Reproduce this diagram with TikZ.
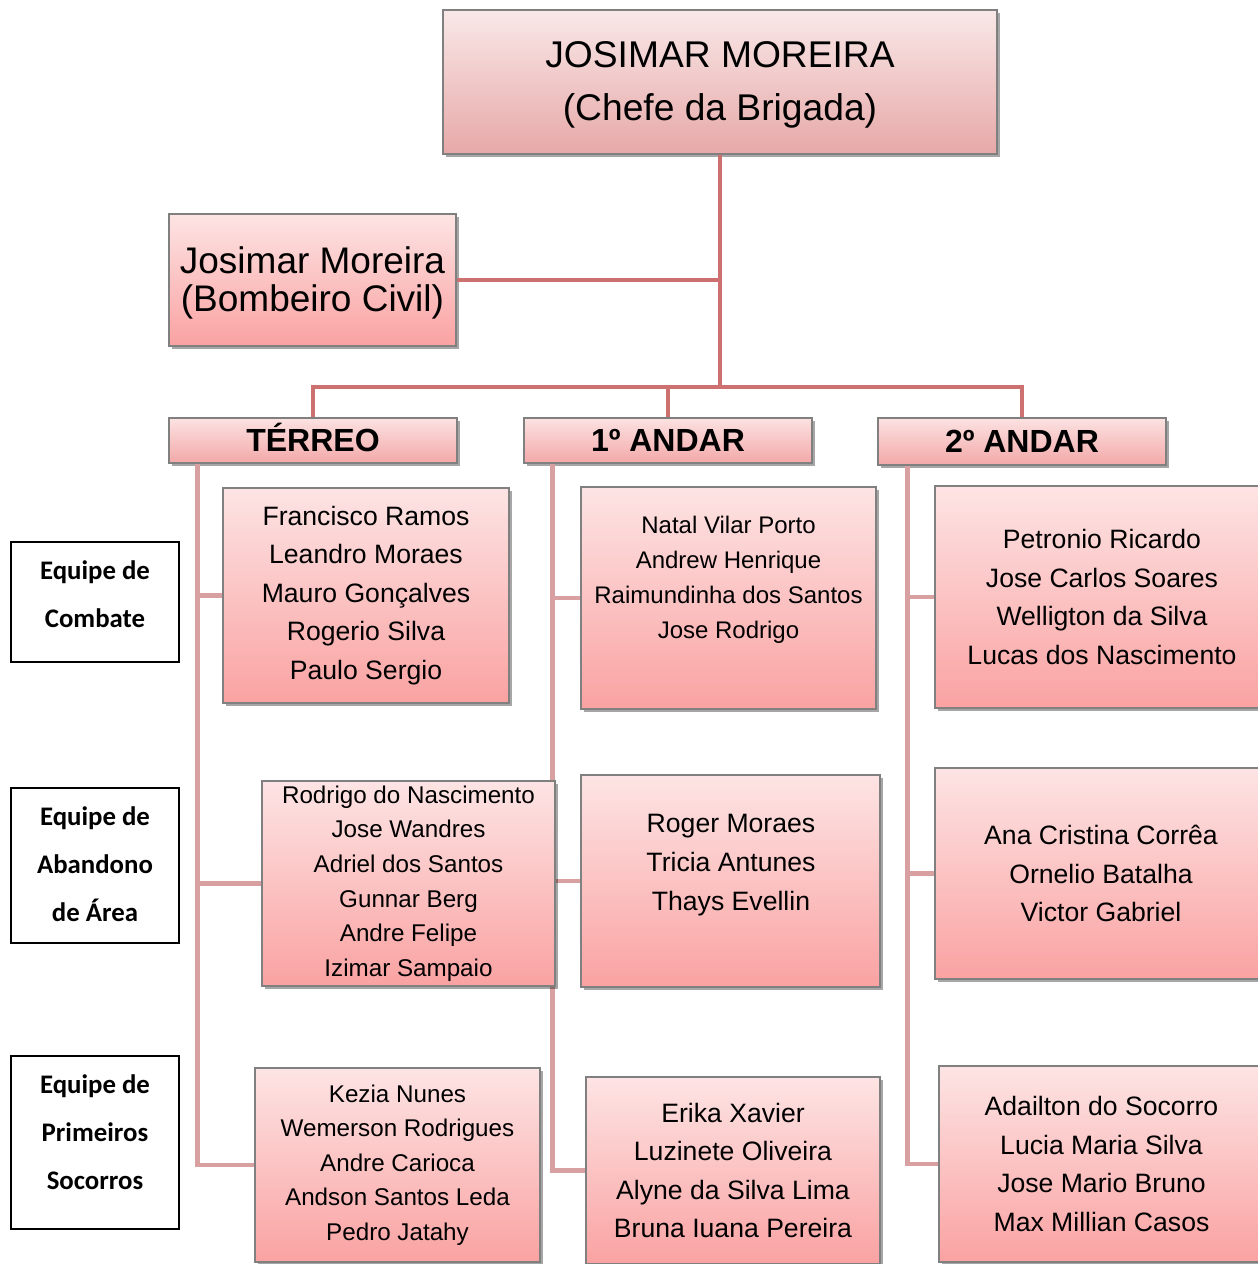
\documentclass[tikz,border=0pt]{standalone}
\usepackage{fontspec}
\setmainfont{Liberation Sans}
\newfontfamily\carlitofont{Carlito}
\usetikzlibrary{shadows}
\definecolor{topT}{RGB}{249,232,232}
\definecolor{topB}{RGB}{231,168,168}
\definecolor{boxT}{RGB}{253,228,228}
\definecolor{boxB}{RGB}{250,162,162}
\definecolor{hdrT}{RGB}{252,226,226}
\definecolor{hdrB}{RGB}{243,168,168}
\definecolor{trunkc}{RGB}{205,112,112}
\definecolor{spinec}{RGB}{216,160,160}
\definecolor{edgec}{RGB}{128,128,128}
\tikzset{
  pinkbox/.style={draw=edgec, line width=0.6pt, top color=boxT, bottom color=boxB,
    drop shadow={shadow xshift=1.5pt, shadow yshift=-1.5pt, opacity=0.35, fill=black},
    align=center, inner sep=0pt},
  topbox/.style={pinkbox, top color=topT, bottom color=topB},
  hdrbox/.style={pinkbox, top color=hdrT, bottom color=hdrB,
    font=\bfseries\fontsize{16}{19}\selectfont, text height=11.5pt, text depth=1pt},
  teambox/.style={draw=black, line width=1pt, fill=white, inner sep=0pt},
  teamtext/.style={align=center, inner sep=0pt,
    font=\carlitofont\bfseries\fontsize{13.4}{24}\selectfont},
  nametext/.style={align=center, inner sep=0pt},
  trunkline/.style={draw=trunkc, line width=2pt},
  spineline/.style={draw=spinec, line width=2.3pt},
  nbig/.style={font=\fontsize{13.3}{19.3}\selectfont},
  nsmall/.style={font=\fontsize{12.1}{17.3}\selectfont}
}
\begin{document}
\begin{tikzpicture}[x=0.5pt,y=-0.5pt]
\useasboundingbox (0,0) rectangle (1258,1264);
\coordinate (bus) at (720,387);
% top boxes
\node[topbox, minimum width=277pt, minimum height=72pt] (top) at (720,82) {};
\node[nametext, font=\fontsize{18.6}{26.5}\selectfont] (topt) at (720,85)
  {JOSIMAR MOREIRA\\(Chefe da Brigada)};
\node[pinkbox, minimum width=143.5pt, minimum height=66pt] (bomb) at (312.5,280) {};
\node[nametext, font=\fontsize{18.5}{19}\selectfont] (bombt) at (312.5,283)
  {Josimar Moreira\\(Bombeiro Civil)};
\node[hdrbox, minimum width=144pt, minimum height=22.5pt] (hT) at (313,440.5) {TÉRREO};
\node[hdrbox, minimum width=144pt, minimum height=22.5pt] (h1) at (668,440.5) {1º ANDAR};
\node[hdrbox, minimum width=144pt, minimum height=23.5pt] (h2) at (1022,441.5) {2º ANDAR};
% spine coordinates
\coordinate (sT) at ([xshift=14.5pt]hT.south west);
\coordinate (s1) at ([xshift=14.5pt]h1.south west);
\coordinate (s2) at ([xshift=15pt]h2.south west);
\path (366,595.5) coordinate (cT1) (408.5,883.5) coordinate (cT2) (397.5,1165) coordinate (cT3)
      (728.5,598) coordinate (cA1) (730.5,881) coordinate (cA2) (733,1170.5) coordinate (cA3)
      (1102,597) coordinate (cB1) (1101,873.5) coordinate (cB2) (1101.5,1164) coordinate (cB3);
% connectors (drawn before content boxes)
\draw[trunkline] (top.south) -- (bus);
\draw[trunkline] (bomb.east) -- (bomb.east -| top.south);
\draw[trunkline] (hT.north) -- (hT.north |- bus) -- (h2.north |- bus) -- (h2.north);
\draw[trunkline] (h1.north) -- (h1.north |- bus);
\draw[spineline] (sT) |- ([xshift=-71.25pt]cT3);
\draw[spineline] (sT |- cT1) -- ([xshift=-71.5pt]cT1);
\draw[spineline] (sT |- cT2) -- ([xshift=-73.25pt]cT2);
\draw[spineline] (s1) |- ([xshift=-73.5pt]cA3);
\draw[spineline] (s1 |- cA1) -- ([xshift=-73.75pt]cA1);
\draw[spineline] (s1 |- cA2) -- ([xshift=-74.75pt]cA2);
\draw[spineline] (s2) |- ([xshift=-81.25pt]cB3);
\draw[spineline] (s2 |- cB1) -- ([xshift=-83.5pt]cB1);
\draw[spineline] (s2 |- cB2) -- ([xshift=-83pt]cB2);
% content boxes
\node[pinkbox, nbig, minimum width=143pt, minimum height=107.5pt] (T1) at (cT1)
  {Francisco Ramos\\Leandro Moraes\\Mauro Gonçalves\\Rogerio Silva\\Paulo Sergio};
\node[pinkbox, nsmall, minimum width=146.5pt, minimum height=102.5pt] (T2) at (cT2)
  {Rodrigo do Nascimento\\Jose Wandres\\Adriel dos Santos\\Gunnar Berg\\Andre Felipe\\Izimar Sampaio};
\node[pinkbox, nsmall, minimum width=142.5pt, minimum height=97pt] (T3) at (cT3)
  {Kezia Nunes\\Wemerson Rodrigues\\Andre Carioca\\Andson Santos Leda\\Pedro Jatahy};
\node[pinkbox, minimum width=147.5pt, minimum height=111pt] (A1) at (cA1) {};
\node[nametext, font=\fontsize{12}{17.5}\selectfont] (A1t) at (728.5,580)
  {Natal Vilar Porto\\Andrew Henrique\\Raimundinha dos Santos\\Jose Rodrigo};
\node[pinkbox, minimum width=149.5pt, minimum height=106pt] (A2) at (cA2) {};
\node[nametext, nbig] (A2t) at (731,865)
  {Roger Moraes\\Tricia Antunes\\Thays Evellin};
\node[pinkbox, nbig, minimum width=147pt, minimum height=93.5pt] (A3) at (cA3)
  {Erika Xavier\\Luzinete Oliveira\\Alyne da Silva Lima\\Bruna Iuana Pereira};
\node[pinkbox, nbig, minimum width=167pt, minimum height=111pt] (B1) at (cB1)
  {Petronio Ricardo\\Jose Carlos Soares\\Welligton da Silva\\Lucas dos Nascimento};
\node[pinkbox, nbig, minimum width=166pt, minimum height=105.5pt] (B2) at (cB2)
  {Ana Cristina Corrêa\\Ornelio Batalha\\Victor Gabriel};
\node[pinkbox, nbig, minimum width=162.5pt, minimum height=98pt] (B3) at (cB3)
  {Adailton do Socorro\\Lucia Maria Silva\\Jose Mario Bruno\\Max Millian Casos};
% team labels
\node[teambox, minimum width=84pt, minimum height=60pt] (L1) at (95,602) {};
\node[teamtext] (L1t) at (95,594) {Equipe de\\Combate};
\node[teambox, minimum width=84pt, minimum height=77.5pt] (L2) at (95,865.5) {};
\node[teamtext] (L2t) at (95,864) {Equipe de\\Abandono\\de Área};
\node[teambox, minimum width=84pt, minimum height=86.5pt] (L3) at (95,1142.5) {};
\node[teamtext] (L3t) at (95,1132) {Equipe de\\Primeiros\\Socorros};
\end{tikzpicture}
\end{document}
